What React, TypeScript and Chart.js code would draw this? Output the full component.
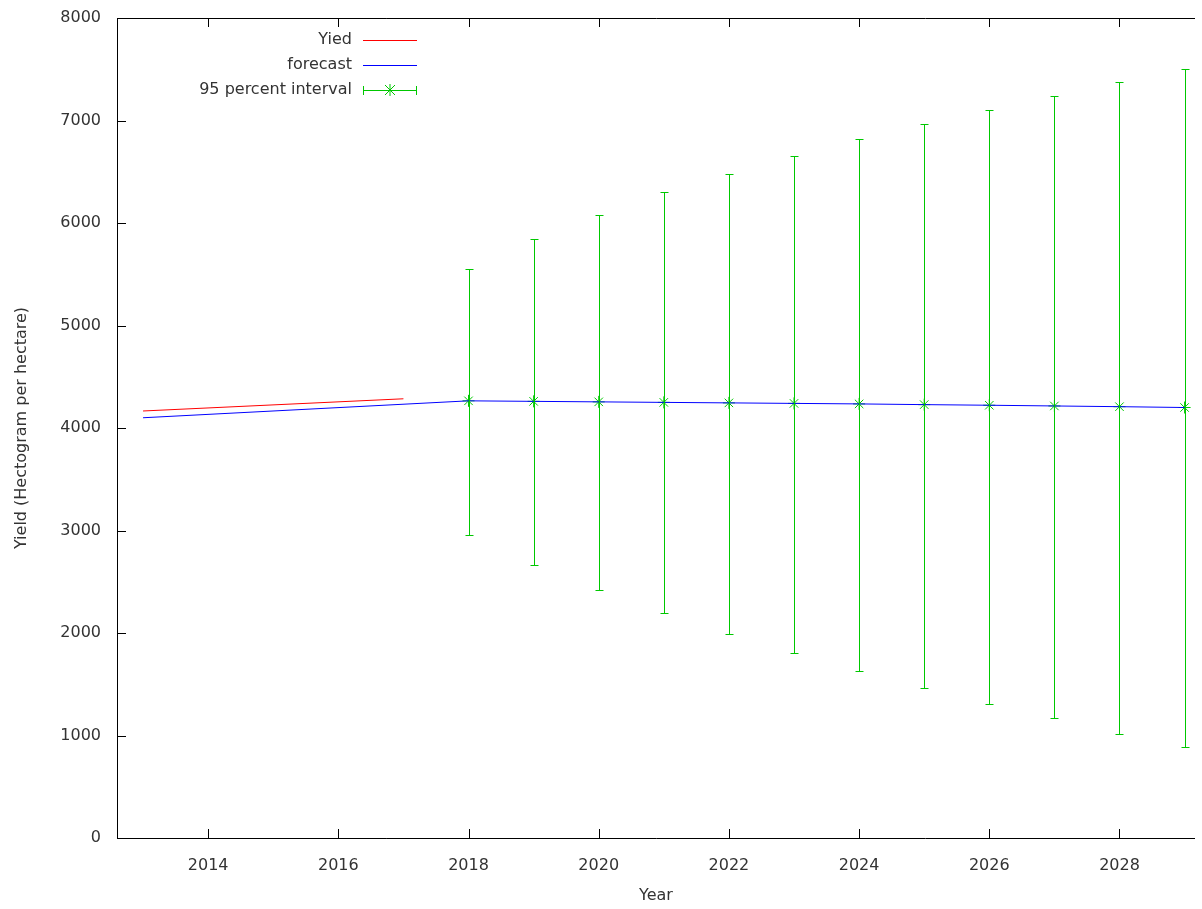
import React, { useEffect, useRef } from "react";
import { Chart, registerables } from "chart.js";
Chart.register(...registerables);

const yieldYears = [2013, 2017];
const yieldValues = [4166, 4285];
const forecastYears = [2013, 2018, 2019, 2020, 2021, 2022, 2023, 2024, 2025, 2026, 2027, 2028, 2029];
const forecastValues = [4100, 4265, 4260, 4255, 4250, 4245, 4240, 4235, 4228, 4222, 4215, 4208, 4200];
const intervalYears = [2018, 2019, 2020, 2021, 2022, 2023, 2024, 2025, 2026, 2027, 2028, 2029];
const intervalCenter = [4265, 4260, 4255, 4250, 4245, 4240, 4235, 4228, 4222, 4215, 4208, 4200];
const intervalUpper = [5551, 5844, 6078, 6302, 6478, 6654, 6820, 6966, 7102, 7239, 7376, 7502];
const intervalLower = [2956, 2663, 2420, 2195, 1990, 1805, 1629, 1463, 1307, 1171, 1015, 888];
const xTicks = [2014, 2016, 2018, 2020, 2022, 2024, 2026, 2028];
const yTicks = [0, 1000, 2000, 3000, 4000, 5000, 6000, 7000, 8000];

const GREEN = "rgb(0,200,0)";
const FONT = "'DejaVu Sans', Verdana, sans-serif";
const TEXT = "#333";

const overlay = {
  id: "overlay",
  afterDatasetsDraw(chart: any) {
    const { ctx, chartArea: a, scales } = chart;
    const xs = scales.x, ys = scales.y;
    ctx.save();
    ctx.lineWidth = 1;
    ctx.strokeStyle = GREEN;
    intervalYears.forEach((yr, i) => {
      const x = Math.round(xs.getPixelForValue(yr)) + 0.5;
      const t = Math.round(ys.getPixelForValue(intervalUpper[i])) + 0.5;
      const b = Math.round(ys.getPixelForValue(intervalLower[i])) + 0.5;
      ctx.beginPath();
      ctx.moveTo(x, t); ctx.lineTo(x, b);
      ctx.moveTo(x - 4, t); ctx.lineTo(x + 4, t);
      ctx.moveTo(x - 4, b); ctx.lineTo(x + 4, b);
      ctx.stroke();
    });
    ctx.strokeStyle = "#000";
    ctx.beginPath();
    ctx.moveTo(a.right, a.top + 0.5); ctx.lineTo(a.left + 0.5, a.top + 0.5);
    ctx.lineTo(a.left + 0.5, a.bottom + 0.5); ctx.lineTo(a.right, a.bottom + 0.5);
    xTicks.forEach((v) => {
      const x = Math.round(xs.getPixelForValue(v)) + 0.5;
      ctx.moveTo(x, a.bottom); ctx.lineTo(x, a.bottom - 9);
      ctx.moveTo(x, a.top); ctx.lineTo(x, a.top + 9);
    });
    yTicks.forEach((v) => {
      const y = Math.round(ys.getPixelForValue(v)) + 0.5;
      ctx.moveTo(a.left, y); ctx.lineTo(a.left + 9, y);
    });
    ctx.stroke();
    ctx.font = `16px ${FONT}`;
    ctx.fillStyle = TEXT;
    ctx.textAlign = "right";
    ctx.textBaseline = "middle";
    const rows = [
      { label: "Yied", color: "#ff0000", err: false },
      { label: "forecast", color: "#0000ff", err: false },
      { label: "95 percent interval", color: GREEN, err: true },
    ];
    rows.forEach((r, i) => {
      const y = 40 + i * 25;
      ctx.fillText(r.label, 352, y);
      ctx.strokeStyle = r.color;
      ctx.lineWidth = 1;
      ctx.beginPath();
      ctx.moveTo(363, y + 0.5); ctx.lineTo(417, y + 0.5);
      if (r.err) {
        ctx.moveTo(363.5, y - 4); ctx.lineTo(363.5, y + 5);
        ctx.moveTo(416.5, y - 4); ctx.lineTo(416.5, y + 5);
        const cx = 390;
        ctx.moveTo(cx - 5, y - 5); ctx.lineTo(cx + 5, y + 5);
        ctx.moveTo(cx + 5, y - 5); ctx.lineTo(cx - 5, y + 5);
        ctx.moveTo(cx, y - 6); ctx.lineTo(cx, y + 6);
      }
      ctx.stroke();
    });
    ctx.restore();
  },
};

export default function App() {
  const ref = useRef<HTMLCanvasElement>(null);
  useEffect(() => {
    const chart = new Chart(ref.current!, {
      type: "scatter",
      data: {
        datasets: [
          {
            label: "Yied",
            data: yieldYears.map((x, i) => ({ x, y: yieldValues[i] })),
            showLine: true, borderColor: "#ff0000", borderWidth: 1, pointRadius: 0,
          },
          {
            label: "forecast",
            data: forecastYears.map((x, i) => ({ x, y: forecastValues[i] })),
            showLine: true, borderColor: "#0000ff", borderWidth: 1, pointRadius: 0,
          },
          {
            label: "95 percent interval",
            data: intervalYears.map((x, i) => ({ x, y: intervalCenter[i] })),
            showLine: false, borderColor: GREEN, borderWidth: 1,
            pointStyle: "star", pointRadius: 6,
          },
        ],
      },
      plugins: [overlay],
      options: {
        animation: false,
        responsive: false,
        layout: { padding: { top: 18, right: -8, left: 8, bottom: 0 } },
        plugins: { legend: { display: false }, tooltip: { enabled: false } },
        scales: {
          x: {
            type: "linear", min: 2012.6, max: 2029.16,
            grid: { display: false }, border: { display: false },
            afterBuildTicks: (s: any) => { s.ticks = xTicks.map((v) => ({ value: v })); },
            afterFit: (s: any) => { s.height = 71; },
            ticks: { color: TEXT, font: { family: FONT, size: 16 }, padding: 10, maxRotation: 0, callback: (v: any) => String(v) },
            title: { display: true, text: "Year", color: TEXT, font: { family: FONT, size: 16 }, padding: { top: 16 } },
          },
          y: {
            min: 0, max: 8000,
            grid: { display: false }, border: { display: false },
            afterBuildTicks: (s: any) => { s.ticks = yTicks.map((v) => ({ value: v })); },
            afterFit: (s: any) => { s.width = 109; },
            ticks: { color: TEXT, font: { family: FONT, size: 16 }, padding: 8, callback: (v: any) => String(v) },
            title: { display: true, text: "Yield (Hectogram per hectare)", color: TEXT, font: { family: FONT, size: 16 }, padding: { bottom: 10 } },
          },
        },
      },
    });
    return () => chart.destroy();
  }, []);
  return (
    <div style={{ position: "absolute", left: 0, top: 0, background: "#fff" }}>
      <canvas ref={ref} width={1202} height={909} style={{ display: "block" }} />
    </div>
  );
}
